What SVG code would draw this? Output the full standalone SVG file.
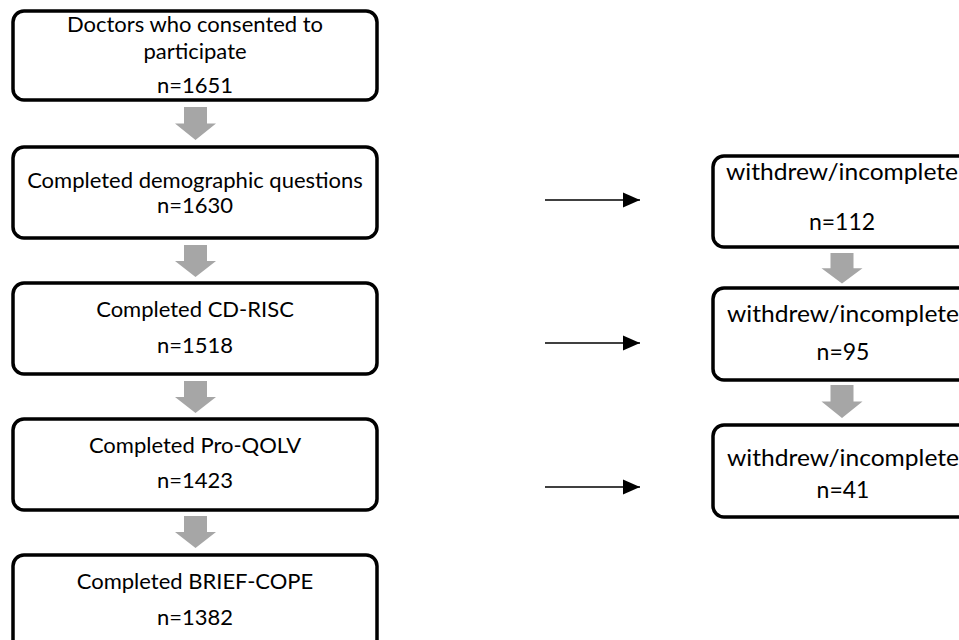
<svg xmlns="http://www.w3.org/2000/svg" width="959" height="640" viewBox="0 0 959 640">
<style>
.box{fill:#fff;stroke:#000;stroke-width:3.5}
.t{font-family:Lato,"Open Sans","Liberation Sans",sans-serif;font-size:22px;fill:#000;text-anchor:middle}
.r{font-size:23px}
.g{fill:#a6a6a6}
.conn{stroke:#000;stroke-width:1.4;fill:none}
</style>
<defs>
<marker id="ah" markerUnits="userSpaceOnUse" markerWidth="18" markerHeight="16" refX="17" refY="8" orient="auto">
<path d="M0,0.5 L17,8 L0,15.5 Z" fill="#000"/>
</marker>
<path id="garrow" d="M-11.5,0 H11.5 V16 H20.5 L0,32 L-20.5,16 H-11.5 Z"/>
</defs>
<rect width="959" height="640" fill="#fff"/>
<g id="n1">
<rect class="box" x="13" y="11" width="364" height="89" rx="11"/>
<text class="t" x="195" y="32">Doctors who consented to</text>
<text class="t" x="195" y="59">participate</text>
<text class="t" x="195" y="93">n=1651</text>
</g>
<g id="n2">
<rect class="box" x="13" y="147" width="364" height="91" rx="11"/>
<text class="t" x="195" y="188">Completed demographic questions</text>
<text class="t" x="195" y="213">n=1630</text>
</g>
<g id="n3">
<rect class="box" x="13" y="283" width="364" height="91" rx="11"/>
<text class="t" x="195" y="317">Completed CD-RISC</text>
<text class="t" x="195" y="353">n=1518</text>
</g>
<g id="n4">
<rect class="box" x="13" y="419" width="364" height="91" rx="11"/>
<text class="t" x="195" y="453">Completed Pro-QOLV</text>
<text class="t" x="195" y="488">n=1423</text>
</g>
<g id="n5">
<rect class="box" x="13" y="555" width="364" height="100" rx="11"/>
<text class="t" x="195" y="589">Completed BRIEF-COPE</text>
<text class="t" x="195" y="625">n=1382</text>
</g>
<g id="r1">
<rect class="box" x="713" y="156" width="262" height="91" rx="11"/>
<text class="t r" x="842" y="180" textLength="232" lengthAdjust="spacingAndGlyphs">withdrew/incomplete</text>
<text class="t r" x="842" y="230">n=112</text>
</g>
<g id="r2">
<rect class="box" x="713" y="288" width="262" height="92" rx="11"/>
<text class="t r" x="843" y="322" textLength="232" lengthAdjust="spacingAndGlyphs">withdrew/incomplete</text>
<text class="t r" x="843" y="360">n=95</text>
</g>
<g id="r3">
<rect class="box" x="713" y="425" width="262" height="92" rx="11"/>
<text class="t r" x="843" y="466" textLength="232" lengthAdjust="spacingAndGlyphs">withdrew/incomplete</text>
<text class="t r" x="843" y="498">n=41</text>
</g>
<g id="connectors">
<use href="#garrow" class="g" transform="translate(195.5,107) scale(1,1.03)"/>
<use href="#garrow" class="g" transform="translate(195.5,245)"/>
<use href="#garrow" class="g" transform="translate(195.5,381)"/>
<use href="#garrow" class="g" transform="translate(195.5,516)"/>
<use href="#garrow" class="g" transform="translate(842,253) scale(1,0.95)"/>
<use href="#garrow" class="g" transform="translate(842,385) scale(1,1.03)"/>
<line class="conn" x1="545" y1="200" x2="640" y2="200" marker-end="url(#ah)"/>
<line class="conn" x1="545" y1="343" x2="640" y2="343" marker-end="url(#ah)"/>
<line class="conn" x1="545" y1="487" x2="640" y2="487" marker-end="url(#ah)"/>
</g>
</svg>
